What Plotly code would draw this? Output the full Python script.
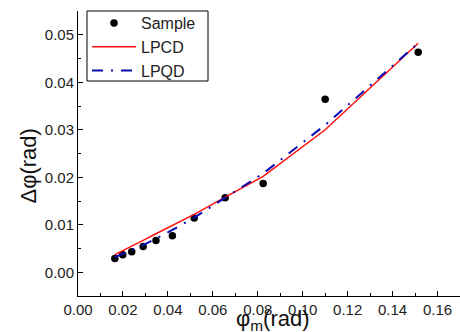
import plotly.graph_objects as go

sample_x = [0.0164, 0.0199, 0.0239, 0.0290, 0.0347, 0.0420, 0.0517, 0.0655, 0.0824, 0.1100, 0.1514]
sample_y = [0.0029, 0.0037, 0.0043, 0.0054, 0.0067, 0.0077, 0.0114, 0.0157, 0.0187, 0.0364, 0.0463]

lpcd_y = [0.0037, 0.0045, 0.0055, 0.0067, 0.0081, 0.0098, 0.0122, 0.0158, 0.0202, 0.0300, 0.0482]
lpqd_y = [0.0032, 0.0039, 0.0047, 0.0057, 0.0071, 0.0089, 0.0115, 0.0157, 0.0208, 0.0310, 0.0482]

x_ticks = [0.00, 0.02, 0.04, 0.06, 0.08, 0.10, 0.12, 0.14, 0.16]
y_ticks = [0.00, 0.01, 0.02, 0.03, 0.04, 0.05]

font = "Liberation Sans, Arial, sans-serif"

fig = go.Figure()
fig.add_trace(go.Scatter(x=sample_x, y=sample_y, mode="markers", name="Sample",
                         marker=dict(color="black", size=7.5)))
fig.add_trace(go.Scatter(x=sample_x, y=lpcd_y, mode="lines", name="LPCD",
                         line=dict(color="#ff1010", width=1.5)))
fig.add_trace(go.Scatter(x=sample_x, y=lpqd_y, mode="lines", name="LPQD",
                         line=dict(color="#0a0ab4", width=2, dash="11px,8px,2px,8px")))

axis_common = dict(showline=True, linecolor="black", linewidth=1, mirror=False,
                   ticks="inside", ticklen=5, tickcolor="black", tickwidth=1,
                   showgrid=False, zeroline=False,
                   tickfont=dict(family=font, size=15, color="#222"))

# pixel geometry of the plot area
L, T, R, B = 78, 11, 460, 296
PW, PH = R - L, B - T

fig.update_layout(
    width=460, height=332,
    margin=dict(l=L, r=460 - R, t=T, b=332 - B),
    plot_bgcolor="white", paper_bgcolor="white",
    showlegend=True,
    legend=dict(x=(87 - L) / PW, y=(B - 6) / PH, xanchor="left", yanchor="top",
                borderwidth=0, bgcolor="rgba(0,0,0,0)",
                font=dict(family=font, size=16, color="#222"),
                tracegroupgap=0, itemwidth=44),
    xaxis=dict(range=[0, 0.17], tickvals=x_ticks, tickformat=".2f",
               minor=dict(ticks="inside", ticklen=3, dtick=0.01, tickcolor="black"),
               **axis_common),
    yaxis=dict(range=[-0.005, 0.055], tickvals=y_ticks, tickformat=".2f",
               minor=dict(ticks="inside", ticklen=3, dtick=0.005, tickcolor="black"),
               **axis_common),
    shapes=[
        dict(type="rect", xref="paper", yref="paper",
             x0=(87 - L) / PW, x1=(208 - L) / PW, y0=(B - 81) / PH, y1=(B - 11) / PH,
             line=dict(color="black", width=1), fillcolor="rgba(0,0,0,0)", layer="above"),
    ],
    annotations=[
        dict(text="φ<sub>m</sub>(rad)", x=(272.5 - L) / PW, y=(B - 336) / PH,
             xref="paper", yref="paper", xanchor="center", yanchor="bottom",
             showarrow=False, font=dict(family=font, size=22, color="#111")),
        dict(text="Δφ(rad)", x=(27.5 - L) / PW, y=(B - 166) / PH,
             xref="paper", yref="paper", xanchor="center", yanchor="middle",
             showarrow=False, textangle=-90,
             font=dict(family=font, size=22, color="#111")),
    ],
)
fig.write_html("out.html")
